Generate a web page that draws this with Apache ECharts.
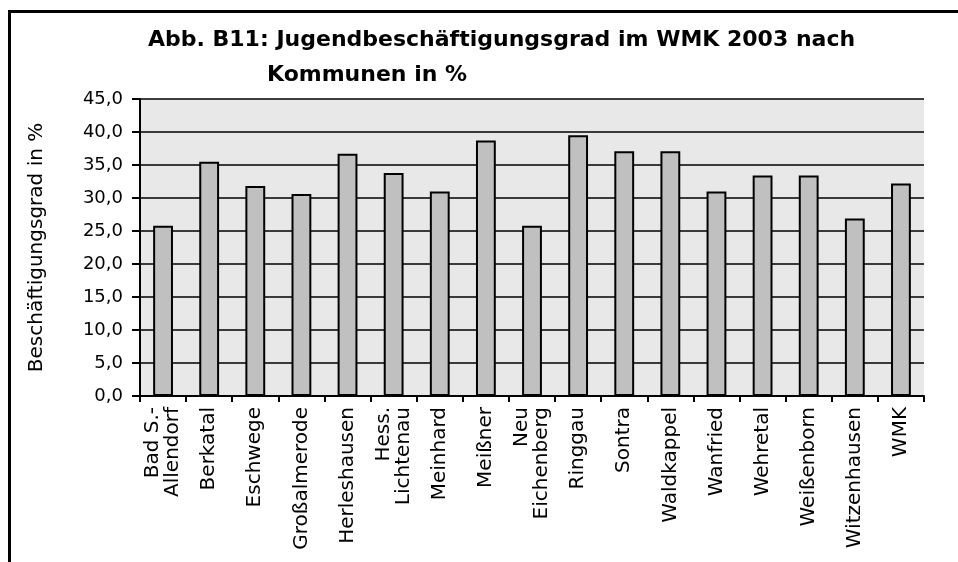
<!DOCTYPE html>
<html>
<head>
<meta charset="utf-8">
<script src="https://cdn.jsdelivr.net/npm/echarts@6/dist/echarts.min.js"></script>
<style>
  html, body { margin: 0; padding: 0; background: #fff; }
  #chart { width: 958px; height: 562px; }
</style>
</head>
<body>
<div id="chart"></div>
<script>
// Kommunen (Kategorien)
const kommunen = [
  'Bad S.-\nAllendorf', 'Berkatal', 'Eschwege', 'Großalmerode', 'Herleshausen',
  'Hess.\nLichtenau', 'Meinhard', 'Meißner', 'Neu\nEichenberg', 'Ringgau',
  'Sontra', 'Waldkappel', 'Wanfried', 'Wehretal', 'Weißenborn',
  'Witzenhausen', 'WMK'
];
// Jugendbeschäftigungsgrad in %
const grad = [
  25.8, 35.5, 31.8, 30.6, 36.7,
  33.8, 31.0, 38.7, 25.8, 39.5,
  37.1, 37.1, 31.0, 33.4, 33.4,
  26.9, 32.2
];
const yMin = 0;
const yMax = 45;
const yStep = 5;

const font = 'DejaVu Sans';
const chart = echarts.init(document.getElementById('chart'));

chart.setOption({
  animation: false,
  backgroundColor: '#fff',
  title: [
    {
      text: 'Abb. B11: Jugendbeschäftigungsgrad im WMK 2003 nach',
      left: 143, top: 24,
      textStyle: { fontFamily: font, fontWeight: 'bold', fontSize: 22, color: '#000' }
    },
    {
      text: 'Kommunen in %',
      left: 262, top: 59,
      textStyle: { fontFamily: font, fontWeight: 'bold', fontSize: 22, color: '#000' }
    }
  ],
  // Rahmen um die Abbildung (rechts/unten abgeschnitten)
  graphic: [{
    type: 'rect',
    shape: { x: 9.5, y: 11.5, width: 1000, height: 600 },
    style: { fill: null, stroke: '#000', lineWidth: 3 },
    silent: true
  }],
  grid: {
    left: 140, right: 34, top: 99, bottom: 166,
    show: true, backgroundColor: '#e8e8e8', borderWidth: 0
  },
  xAxis: {
    type: 'category',
    data: kommunen,
    axisLine: { lineStyle: { color: '#000', width: 2 } },
    axisTick: { show: true, length: 6, lineStyle: { color: '#000', width: 2 } },
    axisLabel: {
      rotate: 90, interval: 0, margin: 11,
      fontFamily: font, fontSize: 20, color: '#000', lineHeight: 20
    }
  },
  yAxis: {
    type: 'value',
    min: yMin, max: yMax, interval: yStep,
    name: 'Beschäftigungsgrad in %',
    nameLocation: 'middle',
    nameGap: 93,
    nameTextStyle: { fontFamily: font, fontSize: 20, color: '#000' },
    axisLine: { show: true, lineStyle: { color: '#000', width: 2 } },
    axisTick: { show: true, length: 8, lineStyle: { color: '#000', width: 2 } },
    axisLabel: {
      margin: 17,
      fontFamily: font, fontSize: 18, color: '#000',
      formatter: v => v.toFixed(1).replace('.', ',')
    },
    splitLine: { show: true, lineStyle: { color: '#000', width: 1.5 } }
  },
  series: [{
    type: 'bar',
    data: grad,
    barWidth: '43%',
    itemStyle: { color: '#c0c0c0', borderColor: '#000', borderWidth: 2 }
  }]
});
</script>
</body>
</html>
